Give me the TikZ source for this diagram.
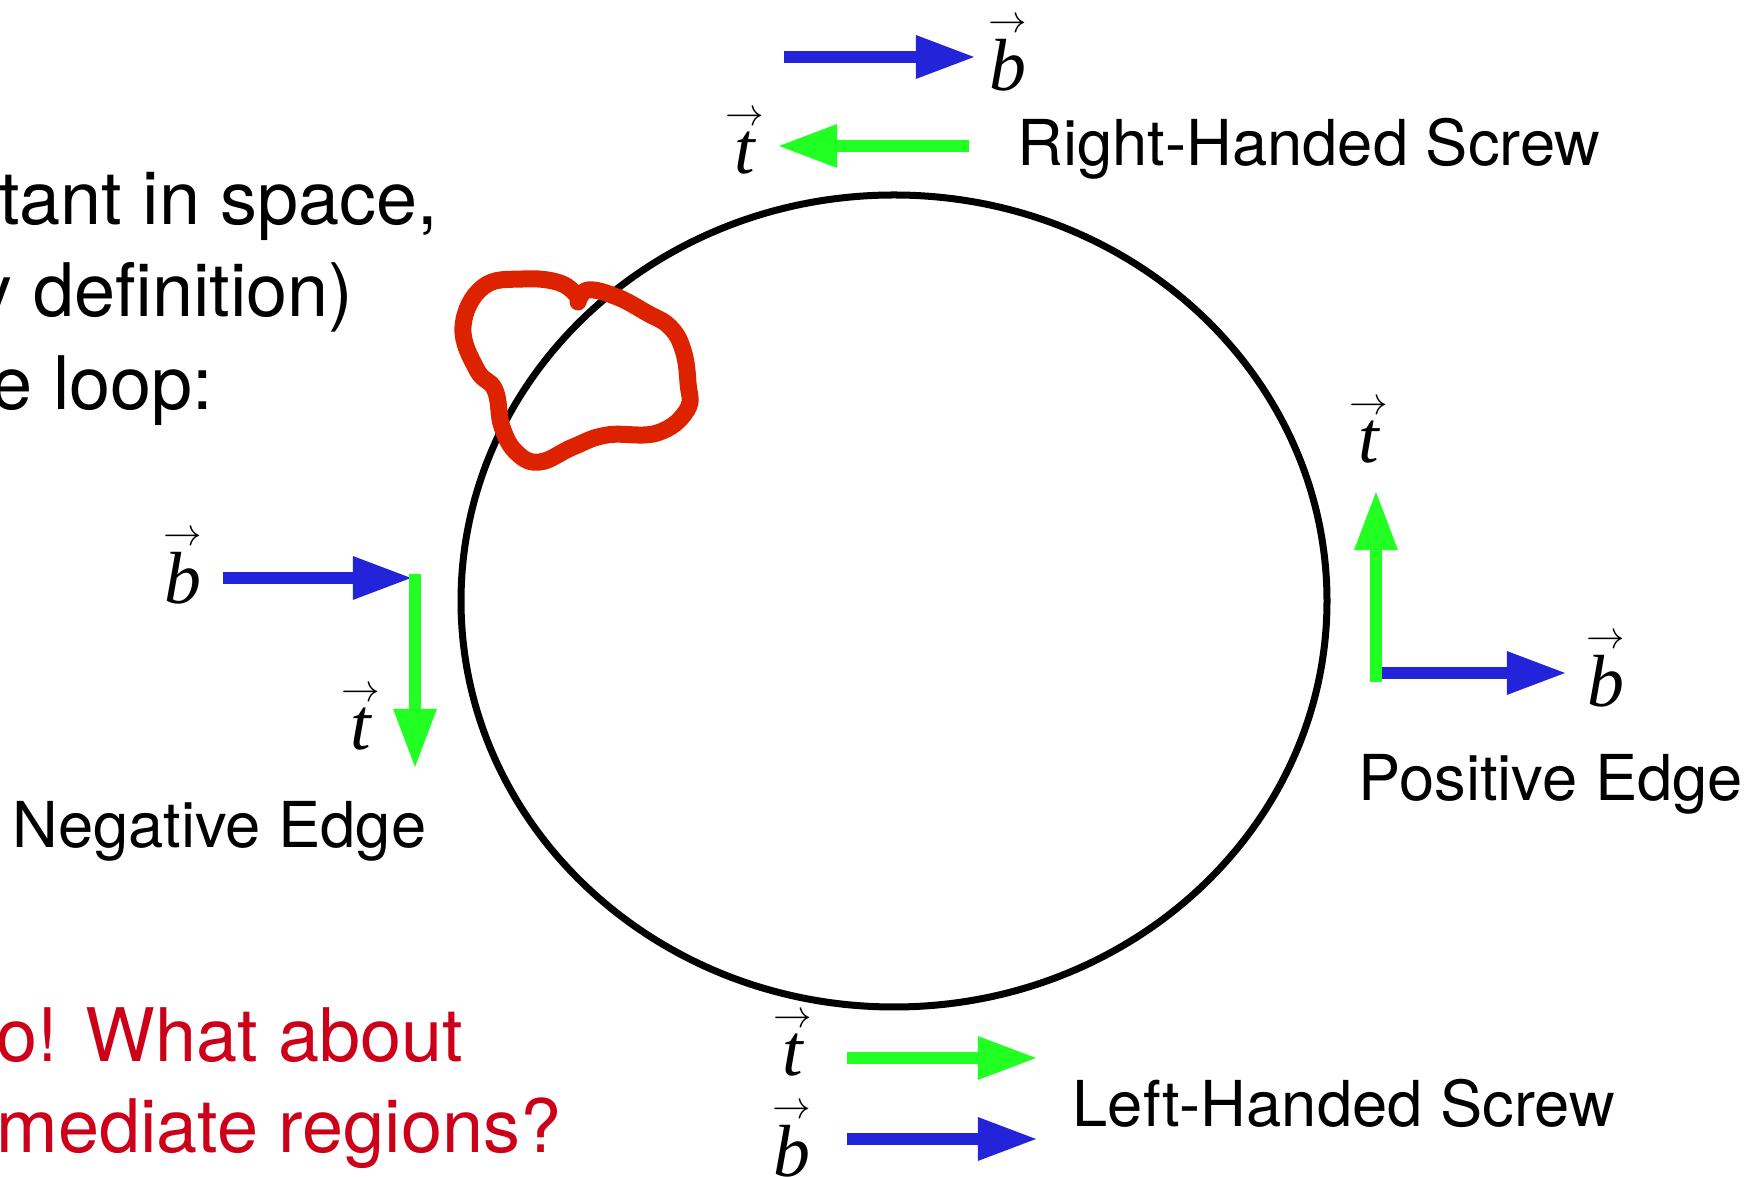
\documentclass[tikz,border=0pt]{standalone}
\usepackage{fontspec}
\setmainfont{TeX Gyre Heros}
\newfontfamily\tmsfont{Liberation Serif}
\usetikzlibrary{arrows.meta}
\definecolor{bvblue}{HTML}{2323D9}
\definecolor{tvgreen}{HTML}{22FF22}
\definecolor{qred}{HTML}{CC0018}
\definecolor{blobred}{HTML}{DD2200}
\newcommand{\vlab}[1]{$\stackrel{\scriptscriptstyle\rightarrow}{\mbox{\tmsfont\itshape #1}}$}
\begin{document}
\begin{tikzpicture}[x=0.01cm, y=-0.01cm,
    vec/.style={line width=0.12cm, -{Triangle[length=0.6cm,width=0.4cm]}},
    bvec/.style={vec, bvblue},
    tvec/.style={vec, tvgreen},
    caption/.style={font=\fontsize{18}{22}\selectfont, inner sep=0pt},
    bigtext/.style={font=\fontsize{21}{25}\selectfont, inner sep=0pt, anchor=base east},
    vname/.style={font=\fontsize{21}{25}\selectfont, inner sep=0pt},
    blob/.style={blobred, line width=0.17cm, line cap=round, line join=round}]
    \useasboundingbox (0,0) rectangle (1751,1177);
    % text cut off at the left edge
    \node[bigtext] (l1) at (439,225) {tant in space,};
    \node[bigtext] (l2) at (354,317) {y definition)};
    \node[bigtext] (l3) at (214,410) {e loop:};
    \node[bigtext, qred] (r1) at (464,1062) {o! What about};
    \node[bigtext, qred] (r2) at (562,1153) {mediate regions?};
    % the loop
    \draw[line width=0.07cm] (894,601) ellipse [x radius=433, y radius=406];
    \draw[blob] plot[smooth, tension=0.7] coordinates {(578,302) (588,290) (617,297)
        (647,313) (670,327) (683,350) (688,383) (687,410) (657,433) (607,435)
        (573,447) (540,462) (517,453) (502,427) (495,390) (477,370) (463,327)
        (483,287) (523,279) (560,283) (578,297)};
    % right-handed screw (top)
    \coordinate (tbS) at (784,57);  \coordinate (tbE) at (976,57);
    \coordinate (ttS) at (969,146); \coordinate (ttE) at (777,146);
    \draw[bvec] (tbS) -- (tbE);
    \draw[tvec] (ttS) -- (ttE);
    \node[vname] (bTop) at (1008,53) {\vlab{b}};
    \node[vname] (tTop) at (745,141) {\vlab{t}};
    \node[caption, anchor=base west] (capR) at (1017,166) {Right-Handed Screw};
    % negative edge (left)
    \coordinate (nbS) at (223,578); \coordinate (nO) at (413,578);
    \coordinate (ntS) at (415,574); \coordinate (ntE) at (415,769);
    \draw[bvec] (nbS) -- (nO);
    \draw[tvec] (ntS) -- (ntE);
    \node[vname] (bNeg) at (183,566) {\vlab{b}};
    \node[vname] (tNeg) at (361,717) {\vlab{t}};
    \node[caption, anchor=base west] (capN) at (12,848) {Negative Edge};
    % positive edge (right)
    \coordinate (pO) at (1376,673); \coordinate (pbE) at (1567,673);
    \coordinate (ptS) at (1376,682); \coordinate (ptE) at (1376,490);
    \draw[bvec] (pO) -- (pbE);
    \draw[tvec] (ptS) -- (ptE);
    \node[vname] (tPos) at (1369,430) {\vlab{t}};
    \node[vname] (bPos) at (1606,669) {\vlab{b}};
    \node[caption, anchor=base west] (capP) at (1358,801) {Positive Edge};
    % left-handed screw (bottom)
    \coordinate (btS) at (847,1058); \coordinate (btE) at (1038,1058);
    \coordinate (bbS) at (847,1139); \coordinate (bbE) at (1038,1139);
    \draw[tvec] (btS) -- (btE);
    \draw[bvec] (bbS) -- (bbE);
    \node[vname] (tBot) at (793,1043) {\vlab{t}};
    \node[vname] (bBot) at (792,1139) {\vlab{b}};
    \node[caption, anchor=base west] (capL) at (1072,1127) {Left-Handed Screw};
\end{tikzpicture}
\end{document}
